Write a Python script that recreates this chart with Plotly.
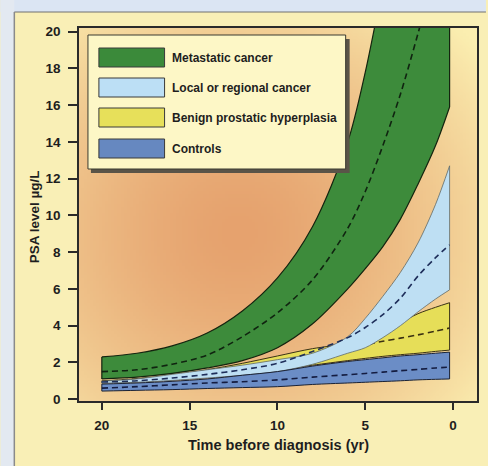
import base64, struct, zlib
import numpy as np
import plotly.graph_objects as go

# ---------------- data ----------------
years = [20, 18, 16, 14, 12, 10, 8, 6, 5, 4, 3, 2, 1, 0.2]

meta_upper  = [2.3, 2.5, 2.9, 3.6, 4.8, 6.6, 9.4, 14.0, 17.8, 22.5, 27, 32, 37, 41]
meta_median = [1.5, 1.6, 1.9, 2.4, 3.4, 4.7, 6.5, 9.3, 11.3, 13.8, 16.6, 19.9, 23.5, 26]
meta_lower  = [1.1, 1.2, 1.4, 1.7, 2.1, 2.8, 4.1, 6.0, 7.1, 8.3, 9.8, 11.7, 13.8, 15.9]

local_upper  = [0.98, 1.1, 1.35, 1.6, 1.85, 2.15, 2.5, 3.4, 4.4, 5.6, 6.9, 8.5, 10.6, 12.7]
local_median = [0.93, 1.0, 1.15, 1.35, 1.6, 1.95, 2.6, 3.35, 3.9, 4.6, 5.5, 6.7, 7.7, 8.4]
local_lower  = [0.87, 0.92, 1.02, 1.15, 1.3, 1.5, 1.9, 2.5, 2.8, 3.35, 4.0, 4.75, 5.45, 5.95]

bph_upper  = [1.0, 1.1, 1.3, 1.6, 1.95, 2.35, 2.75, 3.0, 3.1, 3.55, 4.15, 4.65, 5.0, 5.25]
bph_median = [0.95, 1.1, 1.25, 1.45, 1.7, 2.0, 2.35, 2.7, 2.95, 3.15, 3.32, 3.5, 3.7, 3.87]
bph_lower  = [0.88, 0.95, 1.05, 1.2, 1.4, 1.6, 1.85, 2.1, 2.22, 2.33, 2.42, 2.5, 2.6, 2.67]

ctrl_upper  = [0.82, 0.88, 0.97, 1.1, 1.3, 1.5, 1.8, 2.05, 2.15, 2.25, 2.35, 2.42, 2.5, 2.56]
ctrl_median = [0.6, 0.68, 0.78, 0.88, 0.95, 1.05, 1.2, 1.33, 1.4, 1.47, 1.55, 1.62, 1.7, 1.74]
ctrl_lower  = [0.44, 0.48, 0.52, 0.58, 0.63, 0.68, 0.8, 0.88, 0.92, 0.96, 1.0, 1.05, 1.08, 1.1]

group_names = ["Metastatic cancer", "Local or regional cancer",
               "Benign prostatic hyperplasia", "Controls"]
y_ticks = list(range(0, 21, 2))
x_ticks = [20, 15, 10, 5, 0]

# ---------------- styles ----------------
W, H = 488, 466
ML, MR, MT, MB = 79, 9, 28, 65
PW, PH = W - ML - MR, H - MT - MB

def px(x):
    return (x - ML) / PW

def py(y):
    return (H - MB - y) / PH

FONT = "Liberation Sans, Arial, Helvetica, sans-serif"

def gradient_uri():
    h, w = 120, 130
    yy, xx = np.mgrid[0:h, 0:w]
    fx = xx / (w - 1)
    fy = yy / (h - 1)
    d = np.sqrt(((fx - 0.40) / 0.78) ** 2 + ((fy - 0.55) / 0.78) ** 2)
    t = np.clip(d, 0, 1) ** 1.5
    c0 = np.array([230, 162, 110], float)
    c1 = np.array([251, 238, 176], float)
    img = (c0[None, None, :] * (1 - t[..., None]) + c1[None, None, :] * t[..., None]).astype(np.uint8)
    raw = b"".join(b"\x00" + img[i].tobytes() for i in range(h))

    def chunk(tag, data):
        c = struct.pack(">I", len(data)) + tag + data
        return c + struct.pack(">I", zlib.crc32(tag + data) & 0xFFFFFFFF)

    png = (b"\x89PNG\r\n\x1a\n"
           + chunk(b"IHDR", struct.pack(">IIBBBBB", w, h, 8, 2, 0, 0, 0))
           + chunk(b"IDAT", zlib.compress(raw, 9))
           + chunk(b"IEND", b""))
    return "data:image/png;base64," + base64.b64encode(png).decode()

fig = go.Figure()

def band(upper, median, lower, fill, edge, edge_w, dash_col):
    fig.add_trace(go.Scatter(
        x=years, y=lower, mode="lines", line_shape="spline",
        line=dict(color=edge, width=edge_w, smoothing=0.9),
        hoverinfo="skip", showlegend=False))
    fig.add_trace(go.Scatter(
        x=years, y=upper, mode="lines", line_shape="spline",
        fill="tonexty", fillcolor=fill,
        line=dict(color=edge, width=edge_w, smoothing=0.9),
        hoverinfo="skip", showlegend=False))
    # vertical end edges of the band
    for i in (0, -1):
        fig.add_trace(go.Scatter(
            x=[years[i], years[i]], y=[lower[i], upper[i]], mode="lines",
            line=dict(color=edge, width=edge_w), hoverinfo="skip", showlegend=False))
    fig.add_trace(go.Scatter(
        x=years, y=median, mode="lines", line_shape="spline",
        line=dict(color=dash_col, width=1.6, dash="6px,4px", smoothing=0.9),
        hoverinfo="skip", showlegend=False))

band(bph_upper, bph_median, bph_lower, "#e6de58", "#3a3215", 1.0, "#3a3012")
band(local_upper, local_median, local_lower, "#bedff3", "#5f6a68", 0.8, "#1e2e5a")
band(ctrl_upper, ctrl_median, ctrl_lower, "#6b8dc6", "#1a2235", 1.0, "#141c40")
band(meta_upper, meta_median, meta_lower, "#3d8b3b", "#14240f", 1.2, "#102410")

shapes = []
# outer slide background strips
shapes.append(dict(type="rect", xref="paper", yref="paper", x0=px(0), x1=px(W), y0=py(0), y1=py(12),
                   fillcolor="#dbe5f3", line=dict(width=0), layer="below"))
shapes.append(dict(type="rect", xref="paper", yref="paper", x0=px(0), x1=px(14), y0=py(0), y1=py(H),
                   fillcolor="#e3e9f1", line=dict(width=0), layer="below"))
shapes.append(dict(type="line", xref="paper", yref="paper", x0=px(14), x1=px(W), y0=py(12), y1=py(12),
                   line=dict(color="#707070", width=1)))
shapes.append(dict(type="line", xref="paper", yref="paper", x0=px(14), x1=px(14), y0=py(12), y1=py(H),
                   line=dict(color="#8a8a8a", width=1.5)))

# custom legend
shapes.append(dict(type="rect", xref="paper", yref="paper", x0=px(91), x1=px(351), y0=py(173), y1=py(39),
                   fillcolor="#5a5448", line=dict(width=0)))
shapes.append(dict(type="rect", xref="paper", yref="paper", x0=px(88), x1=px(347), y0=py(169), y1=py(35),
                   fillcolor="#fdf7c6", line=dict(color="#3a3a30", width=1)))
patch_cols = ["#3b8a3a", "#bcdff5", "#e7e05a", "#6688c0"]
patch_tops = [48, 78, 108, 139]
annotations = []
for name, col, top in zip(group_names, patch_cols, patch_tops):
    shapes.append(dict(type="rect", xref="paper", yref="paper", x0=px(99), x1=px(165),
                       y0=py(top + 19), y1=py(top), fillcolor=col,
                       line=dict(color="#3a3a3a", width=1)))
    annotations.append(dict(xref="paper", yref="paper", x=px(170), y=py(top + 9.5),
                            text="<b>" + name + "</b>", showarrow=False, xanchor="left",
                            yanchor="middle", font=dict(family=FONT, size=12, color="#1e1e1e")))

annotations.append(dict(xref="paper", yref="paper", x=px(34), y=py(217),
                        text="<b>PSA level µg/L</b>", textangle=-90, showarrow=False,
                        xanchor="center", yanchor="middle",
                        font=dict(family=FONT, size=13.5, color="#1e1e1e")))
annotations.append(dict(xref="paper", yref="paper", x=px(279), y=py(445),
                        text="<b>Time before diagnosis (yr)</b>", showarrow=False,
                        xanchor="center", yanchor="middle",
                        font=dict(family=FONT, size=14.5, color="#1e1e1e")))

fig.update_layout(
    width=W, height=H,
    margin=dict(l=ML, r=MR, t=MT, b=MB, pad=0),
    paper_bgcolor="#f9efb6", plot_bgcolor="rgba(0,0,0,0)",
    showlegend=False,
    shapes=shapes, annotations=annotations,
    images=[dict(source=gradient_uri(), xref="paper", yref="paper", x=0, y=1,
                 sizex=1, sizey=1, xanchor="left", yanchor="top",
                 sizing="stretch", layer="below")],
    xaxis=dict(range=[21.3, -1.36], tickvals=x_ticks, ticktext=[str(v) for v in x_ticks],
               showgrid=False, zeroline=False, showline=True, linecolor="#2a2a2a",
               linewidth=1.5, mirror=True, ticks="outside", ticklen=7, tickwidth=1.5,
               tickcolor="#2a2a2a", ticklabelstandoff=4,
               tickfont=dict(family=FONT, size=13.5, color="#1e1e1e", weight="bold")),
    yaxis=dict(range=[-0.1, 20.2], tickvals=y_ticks, ticktext=[str(v) for v in y_ticks],
               showgrid=False, zeroline=False, showline=True, linecolor="#2a2a2a",
               linewidth=1.5, mirror=True, ticks="outside", ticklen=9, tickwidth=1.5,
               tickcolor="#2a2a2a", ticklabelstandoff=5,
               tickfont=dict(family=FONT, size=13.5, color="#1e1e1e", weight="bold")),
)

fig.write_html("out.html")
